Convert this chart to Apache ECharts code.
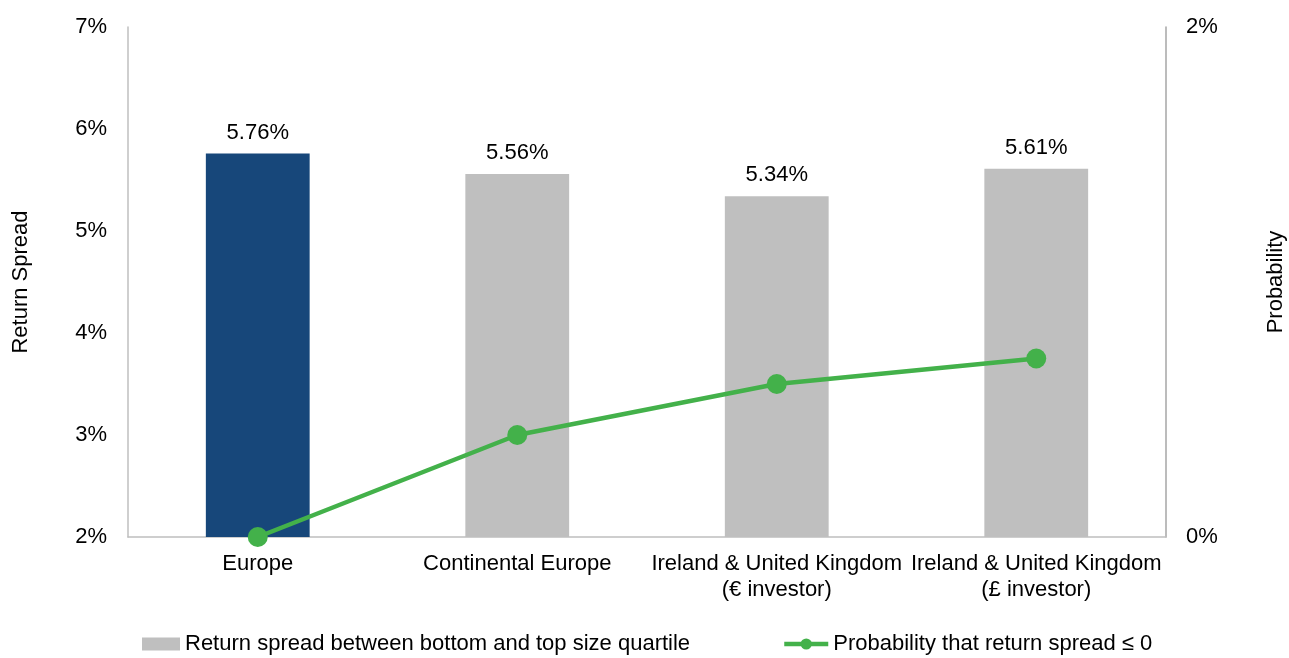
<!DOCTYPE html>
<html>
<head>
<meta charset="utf-8">
<script src="https://cdn.jsdelivr.net/npm/echarts@6/dist/echarts.min.js"></script>
<style>html,body{margin:0;padding:0;background:#fff;}#c{width:1289px;height:658px;}</style>
</head>
<body>
<div id="c"></div>
<script>
const categories = ['Europe', 'Continental Europe', 'Ireland & United Kingdom\n(€ investor)', 'Ireland & United Kingdom\n(£ investor)'];
const returnSpread = [5.76, 5.56, 5.34, 5.61];
const probability = [0.0, 0.4, 0.6, 0.7];
const barName = 'Return spread between bottom and top size quartile';
const lineName = 'Probability that return spread \u2264 0';

const FONT = 'Liberation Sans, Arial, sans-serif';
const FS = 22;
const chart = echarts.init(document.getElementById('c'), null, {renderer: 'canvas'});
chart.setOption({
  animation: false,
  backgroundColor: '#fff',
  textStyle: {fontFamily: FONT, color: '#000'},
  grid: {left: 128, right: 123, top: 27, bottom: 121, containLabel: false, outerBoundsMode: 'none'},
  legend: [
    {data: [{name: barName, icon: 'rect'}], left: 137, top: 628, itemWidth: 38, itemHeight: 13,
     textStyle: {fontFamily: FONT, fontSize: FS, color: '#000'}},
    {data: [lineName], left: 777, top: 628, itemWidth: 44, itemHeight: 14,
     lineStyle: {width: 4.5},
     textStyle: {fontFamily: FONT, fontSize: FS, color: '#000'}}
  ],
  xAxis: {
    type: 'category', data: categories,
    axisLine: {lineStyle: {color: '#bfbfbf', width: 1.5}},
    axisTick: {show: false},
    axisLabel: {interval: 0, hideOverlap: false, fontFamily: FONT, fontSize: FS, color: '#000', margin: 14, lineHeight: 26}
  },
  yAxis: [
    {type: 'value', min: 2, max: 7, interval: 1, name: 'Return Spread', nameLocation: 'middle', nameGap: 96,
     nameTextStyle: {fontFamily: FONT, fontSize: FS, color: '#000'},
     axisLine: {show: true, lineStyle: {color: '#bfbfbf', width: 1.5}}, axisTick: {show: false},
     splitLine: {show: false},
     axisLabel: {formatter: '{value}%', fontFamily: FONT, fontSize: FS, color: '#000', margin: 21}},
    {type: 'value', min: 0, max: 2, interval: 2, name: 'Probability', nameLocation: 'middle', nameGap: 99,
     nameRotate: 90,
     nameTextStyle: {fontFamily: FONT, fontSize: FS, color: '#000'},
     axisLine: {show: true, lineStyle: {color: '#a6a6a6', width: 1.5}}, axisTick: {show: false},
     splitLine: {show: false},
     axisLabel: {formatter: '{value}%', fontFamily: FONT, fontSize: FS, color: '#000', margin: 20}}
  ],
  series: [
    {type: 'bar', name: barName, yAxisIndex: 0, barWidth: '40%',
     itemStyle: {color: '#bfbfbf'},
     data: returnSpread.map((v, i) => i === 0 ? {value: v, itemStyle: {color: '#17477a'}} : v),
     label: {show: true, position: 'top', distance: 10, formatter: p => p.value.toFixed(2) + '%',
       fontFamily: FONT, fontSize: FS, color: '#000'}},
    {type: 'line', name: lineName, yAxisIndex: 1, data: probability,
     symbol: 'circle', symbolSize: 20,
     lineStyle: {color: '#43b14a', width: 4.5}, itemStyle: {color: '#43b14a'}}
  ]
});
</script>
</body>
</html>
